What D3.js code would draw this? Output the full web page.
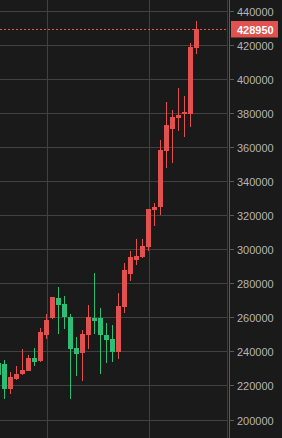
<!DOCTYPE html>
<html><head><meta charset="utf-8">
<script src="https://cdn.jsdelivr.net/npm/d3@7/dist/d3.min.js"></script>
<style>html,body{margin:0;padding:0;background:#1a1a1a;overflow:hidden}</style>
</head><body><svg id="c" width="282" height="438"></svg>
<script>
const opens  = [233150,232550,218050,223750,226700,228650,236100,234350,249600,259550,271300,267750,260150,241950,239000,249600,259550,259550,249600,247250,239600,266000,285400,293600,295350,301200,322950,324700,357550,370450,376900,379250,379550,418000];
const closes = [226100,218050,224950,226700,229050,236100,233900,251350,258400,271900,267200,260150,241350,238450,250150,260150,257800,249600,246650,239600,266600,287700,295350,295950,301800,323500,324700,358150,372800,377500,378700,380450,418600,428950];
const highs  = [234300,234900,227850,231400,241350,237850,241950,253700,261900,272000,277750,272450,261900,248400,252500,267200,285950,265450,256600,255450,274250,291850,298900,305900,305900,323600,327050,364000,386300,381600,394500,389850,420950,433850];
const lows   = [224350,212200,215150,223000,226100,228500,231400,233750,247250,258950,250150,253100,212050,225500,222600,241350,250150,226700,233150,233750,235500,262500,281250,290650,294750,298900,313550,320000,347600,350500,369300,365750,371650,414450];
const yTicks = [200000,220000,240000,260000,280000,300000,320000,340000,360000,380000,400000,420000,440000];
const xGridIdx = [8,25];
const lastPrice = 428950;

const UP="#e0514f", DOWN="#2ebd74";
const svg=d3.select("#c");
const W=282,H=438, plotR=228;
svg.append("rect").attr("width",W).attr("height",H).attr("fill","#1a1a1a");

const y=d3.scaleLinear().domain([200000,440000]).range([419.5,10.5]);
const x=d3.scaleLinear().domain([0,opens.length-1]).range([-1.5,196.5]);

// horizontal grid
svg.append("g").selectAll("line").data(yTicks).join("line")
  .attr("x1",0).attr("x2",plotR).attr("y1",d=>Math.round(y(d))+0.5).attr("y2",d=>Math.round(y(d))+0.5)
  .attr("stroke","#414141").attr("stroke-width",1);
// vertical grid
svg.append("g").selectAll("line").data(xGridIdx).join("line")
  .attr("x1",d=>Math.floor(x(d))+1.5).attr("x2",d=>Math.floor(x(d))+1.5).attr("y1",0).attr("y2",H)
  .attr("stroke","#414141").attr("stroke-width",1);
svg.append("line").attr("x1",227.5).attr("x2",227.5).attr("y1",0).attr("y2",H).attr("stroke","#3a3a3a");

const data=opens.map((o,i)=>({i,o,c:closes[i],h:highs[i],l:lows[i]}));
const g=svg.append("g");
g.selectAll(".w").data(data).join("rect")
  .attr("x",d=>Math.floor(x(d.i))).attr("width",1)
  .attr("y",d=>Math.round(y(d.h))).attr("height",d=>Math.max(1,Math.round(y(d.l))-Math.round(y(d.h))))
  .attr("fill",d=>d.c>=d.o?UP:DOWN);
g.selectAll(".b").data(data).join("rect")
  .attr("x",d=>Math.floor(x(d.i))-2).attr("width",5)
  .attr("y",d=>Math.round(y(Math.max(d.o,d.c))))
  .attr("height",d=>Math.max(1,Math.round(y(Math.min(d.o,d.c)))-Math.round(y(Math.max(d.o,d.c)))))
  .attr("fill",d=>d.c>=d.o?UP:DOWN);

// last price dashed line
const ly=Math.round(y(lastPrice))+0.5;
svg.append("line").attr("x1",0).attr("x2",plotR).attr("y1",ly).attr("y2",ly)
  .attr("stroke",UP).attr("stroke-width",1).attr("stroke-dasharray","2,2");

// right axis
svg.append("line").attr("x1",229.5).attr("x2",229.5).attr("y1",0).attr("y2",H).attr("stroke","#5a5a5a");
const ax=svg.append("g");
ax.selectAll("line").data(yTicks).join("line")
  .attr("x1",230).attr("x2",234).attr("y1",d=>Math.round(y(d))+0.5).attr("y2",d=>Math.round(y(d))+0.5)
  .attr("stroke","#5a5a5a");
ax.selectAll("text").data(yTicks).join("text")
  .attr("x",237).attr("y",d=>Math.round(y(d))+4.5)
  .attr("fill","#b4b4b4").attr("font-family","'Liberation Sans',Arial,sans-serif").attr("font-size",11)
  .text(d=>d3.format("d")(d));

// last price label
svg.append("rect").attr("x",231).attr("y",ly-8.5).attr("width",47).attr("height",16.5).attr("fill",UP);
svg.append("text").attr("x",237).attr("y",ly+4).attr("fill","#ffffff")
  .attr("font-family","'Liberation Sans',Arial,sans-serif").attr("font-size",11).attr("font-weight","bold")
  .text(d3.format("d")(lastPrice));
</script></body></html>
